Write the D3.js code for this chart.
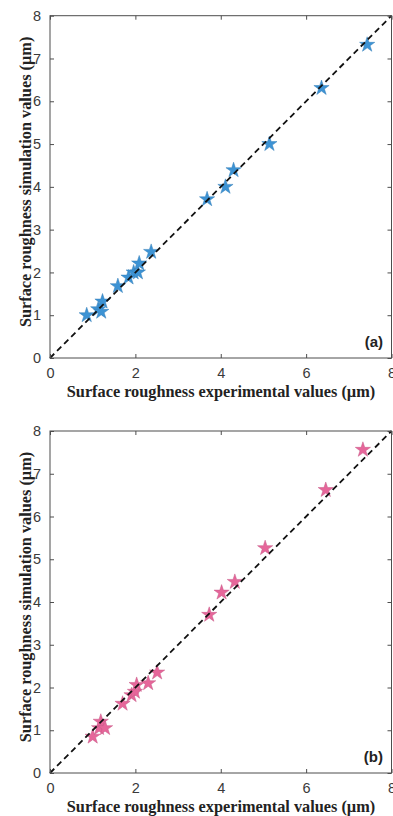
<!DOCTYPE html>
<html>
<head>
<meta charset="utf-8">
<script src="https://cdn.jsdelivr.net/npm/d3@7"></script>
<style>
  html, body { margin: 0; padding: 0; background: #fff; }
  svg { display: block; }
</style>
</head>
<body>
<svg id="chart" width="393" height="816"></svg>
<script>
// experimental (x) vs simulated (y) surface roughness, in µm
const expA = [0.86, 1.13, 1.23, 1.20, 1.59, 1.84, 1.96, 2.06, 2.09, 2.37, 3.68, 4.11, 4.30, 5.14, 6.36, 7.43];
const simA = [1.00, 1.14, 1.32, 1.08, 1.68, 1.88, 2.00, 2.00, 2.21, 2.48, 3.71, 4.00, 4.39, 5.00, 6.31, 7.32];

const expB = [1.00, 1.15, 1.19, 1.29, 1.70, 1.91, 1.99, 2.03, 2.30, 2.51, 3.73, 4.02, 4.33, 5.04, 6.46, 7.33];
const simB = [0.85, 1.05, 1.20, 1.05, 1.62, 1.82, 1.90, 2.06, 2.10, 2.35, 3.70, 4.22, 4.47, 5.26, 6.62, 7.56];

const xTicks = [0, 2, 4, 6, 8];
const yTicks = [0, 1, 2, 3, 4, 5, 6, 7, 8];

const xTitle = 'Surface roughness experimental values (\u00b5m)';
const yTitle = 'Surface roughness simulation values (\u00b5m)';

const panels = [
    {tag: '(a)', xs: expA, ys: simA, color: '#3d93d4', top: 15.7, bottom: 358},
    {tag: '(b)', xs: expB, ys: simB, color: '#e6669a', top: 431, bottom: 773}
];

const svg = d3.select('#chart');
const left = 50, right = 391.5;
const axisColor = '#4d4d4d';
const star = d3.symbol().type(d3.symbolStar).size(72);

panels.forEach(p => {
    const x = d3.scaleLinear().domain([0, 8]).range([left, right]);
    const y = d3.scaleLinear().domain([0, 8]).range([p.bottom, p.top]);
    const g = svg.append('g');

    // markers
    g.selectAll('path.pt')
        .data(p.xs.map((v, i) => [v, p.ys[i]]))
        .join('path')
        .attr('class', 'pt')
        .attr('d', star)
        .attr('transform', d => `translate(${x(d[0])},${y(d[1])})`)
        .attr('fill', p.color)
        .attr('stroke', d3.color(p.color).darker(0.4))
        .attr('stroke-width', 0.5);

    // y = x reference line
    g.append('line')
        .attr('x1', x(0)).attr('y1', y(0))
        .attr('x2', x(8)).attr('y2', y(8))
        .attr('stroke', '#111')
        .attr('stroke-width', 1.8)
        .attr('stroke-dasharray', '6,4');

    // axes (ticks inward, box on)
    const tickStyle = sel => {
        sel.select('.domain').remove();
        sel.selectAll('line').attr('stroke', axisColor);
        sel.selectAll('text').attr('fill', '#3a3a3a')
            .style('font-family', '"Liberation Sans", Arial, sans-serif')
            .style('font-size', '14.5px');
    };

    g.append('g')
        .attr('transform', `translate(0,${p.bottom})`)
        .call(d3.axisBottom(x).tickValues(xTicks).tickSize(-4).tickPadding(10).tickFormat(d3.format('d')))
        .call(tickStyle);
    g.append('g')
        .attr('transform', `translate(0,${p.top})`)
        .call(d3.axisTop(x).tickValues(xTicks).tickSize(-4).tickFormat(''))
        .call(tickStyle);
    g.append('g')
        .attr('transform', `translate(${left},0)`)
        .call(d3.axisLeft(y).tickValues(yTicks).tickSize(-4).tickPadding(9).tickFormat(d3.format('d')))
        .call(tickStyle);
    g.append('g')
        .attr('transform', `translate(${right},0)`)
        .call(d3.axisRight(y).tickValues(yTicks).tickSize(-4).tickFormat(''))
        .call(tickStyle);

    g.append('rect')
        .attr('x', left).attr('y', p.top)
        .attr('width', right - left).attr('height', p.bottom - p.top)
        .attr('fill', 'none')
        .attr('stroke', axisColor)
        .attr('stroke-width', 1);

    // panel tag
    g.append('text')
        .attr('x', 383).attr('y', p.bottom - 11)
        .attr('text-anchor', 'end')
        .style('font-family', '"Liberation Sans", Arial, sans-serif')
        .style('font-weight', 'bold')
        .style('font-size', '15px')
        .attr('fill', '#222')
        .text(p.tag);

    // axis titles
    g.append('text')
        .attr('x', 221).attr('y', p.bottom + 39)
        .attr('text-anchor', 'middle')
        .style('font-family', '"Liberation Serif", "Times New Roman", serif')
        .style('font-weight', 'bold')
        .style('font-size', '16.3px')
        .attr('fill', '#222')
        .text(xTitle);

    g.append('text')
        .attr('transform', `translate(31,${(p.top + p.bottom) / 2 - 5}) rotate(-90)`)
        .attr('text-anchor', 'middle')
        .style('font-family', '"Liberation Serif", "Times New Roman", serif')
        .style('font-weight', 'bold')
        .style('font-size', '16.3px')
        .attr('fill', '#222')
        .text(yTitle);
});
</script>
</body>
</html>
